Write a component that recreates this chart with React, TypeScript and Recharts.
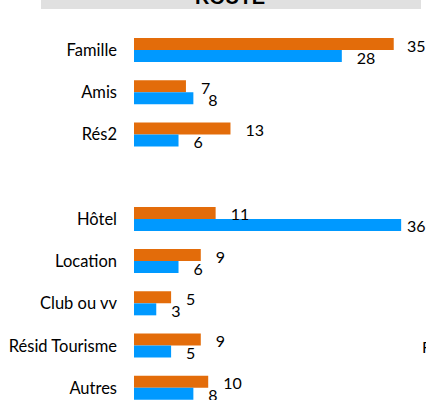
import { BarChart, Bar, XAxis, YAxis, LabelList, Customized } from "recharts";

// Modes d'hébergement, route
const categories = [
  "Famille",
  "Amis",
  "Rés2",
  "",
  "Hôtel",
  "Location",
  "Club ou vv",
  "Résid Tourisme",
  "Autres",
];
const orangeValues = [35, 7, 13, null, 11, 9, 5, 9, 10];
const blueValues = [28, 8, 6, null, 36, 6, 3, 5, 8];

const data = categories.map((name, i) => ({
  name,
  orange: orangeValues[i],
  blue: blueValues[i],
}));

const FONT = "Lato, 'Open Sans', sans-serif";

// étiquette à droite de la barre, ramenée vers la gauche près du bord
const valueLabel = (props: any) => {
  const { x, y, width, height, value } = props;
  if (value === null || value === undefined) return null;
  return (
    <text
      x={Math.min(Number(x) + Number(width) + 15, 407)}
      y={Number(y) + Number(height) / 2 + 1}
      dominantBaseline="central"
      fontFamily={FONT}
      fontWeight={400}
      fontSize={16}
      fill="#000"
    >
      {value}
    </text>
  );
};

// bandeau de titre gris en haut
const TitleBanner = () => (
  <g>
    <rect x={41} y={0} width={380} height={9} fill="#e0e0e0" />
    <text
      x={230}
      y={4}
      textAnchor="middle"
      fontFamily="'Liberation Sans', Arial, sans-serif"
      fontWeight="bold"
      fontSize={20}
      fill="#000"
    >
      ROUTE
    </text>
    <text x={422} y={353} fontFamily={FONT} fontSize={16} fill="#000">
      F
    </text>
  </g>
);

export default function App() {
  return (
    <div
      style={{
        position: "absolute",
        left: 0,
        top: 0,
        width: 426,
        height: 400,
        overflow: "hidden",
        background: "#fff",
      }}
    >
      <BarChart
        width={426}
        height={420}
        data={data}
        layout="vertical"
        margin={{ top: 29, right: 10, bottom: 11, left: 0 }}
        barGap={0}
        barSize={12}
      >
        <XAxis type="number" domain={[0, 38]} hide />
        <YAxis
          type="category"
          dataKey="name"
          width={134}
          axisLine={false}
          tickLine={false}
          tickMargin={11}
          interval={0}
          tick={{ fontSize: 16.5, fill: "#000", fontFamily: FONT, fontWeight: 400 }}
        />
        <Bar dataKey="orange" fill="#e36c0a" isAnimationActive={false}>
          <LabelList dataKey="orange" content={valueLabel} />
        </Bar>
        <Bar dataKey="blue" fill="#0099ff" isAnimationActive={false}>
          <LabelList dataKey="blue" content={valueLabel} />
        </Bar>
        <Customized component={TitleBanner} />
      </BarChart>
    </div>
  );
}
